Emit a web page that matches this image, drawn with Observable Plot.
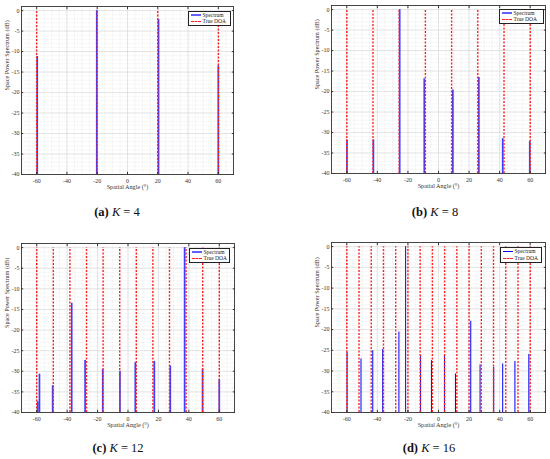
<!DOCTYPE html>
<html>
<head>
<meta charset="utf-8">
<script src="https://cdn.jsdelivr.net/npm/d3@7"></script>
<script src="https://cdn.jsdelivr.net/npm/@observablehq/plot@0.6"></script>
<style>
  html, body { margin: 0; padding: 0; background: #fff; }
  #root { position: relative; width: 550px; height: 459px; overflow: hidden; font-family: "Liberation Serif", "Times New Roman", "DejaVu Serif", serif; }
  .panel { position: absolute; }
  .caption { position: absolute; font-size: 12.5px; color: #111; white-space: nowrap; transform: translate(-50%, -50%); }
  .caption b { font-weight: bold; }
  .legend { position: absolute; background: #fff; border: 0.8px solid #222; box-sizing: border-box; display: flex; flex-direction: column; justify-content: space-evenly; padding: 0 1.5px; font-size: 5.5px; color: #222; white-space: nowrap; overflow: hidden; }
  .legend .row { display: flex; align-items: center; gap: 2px; line-height: 1; white-space: nowrap; }
  .legend .sw { display: inline-block; width: 10px; height: 0; flex: none; }
</style>
</head>
<body>
<div id="root"></div>
<script>
// ---- data ----
const xTicks = [-60, -40, -20, 0, 20, 40, 60];
const yTicks = [-40, -35, -30, -25, -20, -15, -10, -5, 0];
const xMinor = d3.range(-70, 71, 5);
const yMinor = d3.range(-40, 1, 1);
const floorDb = -40;
const doaTop = 0;

const doaA = [-60, -20, 20, 60];
const specAngleA = [-59.6, -20.3, 20.5, 60];
const specPeakA = [-11.2, 0, -2.2, -13.5];

const doaB = [-60, -42.86, -25.71, -8.57, 8.57, 25.71, 42.86, 60];
const specAngleB = [-59.9, -42.6, -25.4, -9.3, 9.4, 26.4, 42.0, 59.7];
const specPeakB = [-31.8, -31.8, 0, -16.9, -19.6, -16.6, -31.5, -32.2];

const doaC = [-60, -49.09, -38.18, -27.27, -16.36, -5.45, 5.45, 16.36, 27.27, 38.18, 49.09, 60];
const specAngleC = [-59.3, -58.2, -49.5, -37.0, -28.2, -16.6, -5.3, 4.8, 17.3, 27.8, 37.2, 49.0, 60.0];
const specPeakC = [-37.4, -30.7, -33.5, -13.5, -27.4, -29.6, -30.0, -27.9, -27.6, -28.7, 0, -29.5, -32.1];

const doaD = [-60, -52, -44, -36, -28, -20, -12, -4, 4, 12, 20, 28, 36, 44, 52, 60];
const specAngleD = [-59.8, -50.7, -43.0, -36.5, -25.9, -21.5, -11.7, -4.6, 3.9, 11.1, 21.1, 27.2, 36.1, 42.0, 50.0, 59.1];
const specPeakD = [-25.5, -27.1, -25.1, -24.8, -20.6, 0, -26.3, -27.5, -26.4, -30.7, -18.0, -28.5, -29.1, -28.3, -27.7, -26.0];

const captions = [["(a)", "4"], ["(b)", "8"], ["(c)", "12"], ["(d)", "16"]];
const xLabel = "Spatial Angle (°)";
const yLabel = "Space Power Spectrum (dB)";
const legendLabels = ["Spectrum", "True DOA"];

// ---- layout ----
const panels = [
  {doa: doaA, ang: specAngleA, pk: specPeakA, left: 0, top: 0, h: 200, ml: 21, mr: 42, mt: 6, mb: 26,
   color: "#3d3dff", sw: 1.7, cap: [117, 212], leg: [188, 11, 43, 14.5]},
  {doa: doaB, ang: specAngleB, pk: specPeakB, left: 275, top: 0, h: 200, ml: 56, mr: 5, mt: 5, mb: 27,
   color: "#3d3dff", sw: 1.7, cap: [435, 212], leg: [499, 9, 45, 15]},
  {doa: doaC, ang: specAngleC, pk: specPeakC, left: 0, top: 237, h: 201, ml: 21, mr: 41, mt: 6, mb: 26,
   color: "#3d3dff", sw: 1.7, cap: [118, 448], leg: [189, 248, 41, 15]},
  {doa: doaD, ang: specAngleD, pk: specPeakD, left: 275, top: 237, h: 201, ml: 56, mr: 5, mt: 5, mb: 26,
   color: "#0000ff", sw: 1.0, cap: [429, 448], leg: [500, 247, 42, 16]}
];

const root = document.getElementById("root");
const fmt = d => String(d);
const blank = () => "";
const serif = "Liberation Serif, Times New Roman, DejaVu Serif, serif";

panels.forEach((p, i) => {
  const spec = p.ang.map((a, j) => ({angle: a, peak: p.pk[j]}));
  const chart = Plot.plot({
    width: 275, height: p.h,
    marginLeft: p.ml, marginRight: p.mr, marginTop: p.mt, marginBottom: p.mb,
    x: {domain: [-70, 70]},
    y: {domain: [-40, 1]},
    style: {fontFamily: serif, background: "transparent", color: "#333"},
    marks: [
      Plot.gridX(xMinor, {stroke: "#cfcfcf", strokeOpacity: 1, strokeWidth: 0.45, strokeDasharray: "0.6,1"}),
      Plot.gridY(yMinor, {stroke: "#cfcfcf", strokeOpacity: 1, strokeWidth: 0.45, strokeDasharray: "0.6,1"}),
      Plot.gridX(xTicks, {stroke: "#d9d9d9", strokeOpacity: 1, strokeWidth: 0.6}),
      Plot.gridY(yTicks, {stroke: "#d9d9d9", strokeOpacity: 1, strokeWidth: 0.6}),
      Plot.ruleX(spec, {x: "angle", y1: () => floorDb, y2: "peak", stroke: p.color, strokeWidth: p.sw}),
      Plot.ruleX(p.doa, {x: d => d, y1: () => floorDb, y2: () => doaTop, stroke: "#ff2020", strokeWidth: 1.4, strokeDasharray: "2,1.5"}),
      Plot.frame({stroke: "#333", strokeWidth: 0.9}),
      Plot.axisX(xTicks, {anchor: "bottom", tickSize: -2.2, tickFormat: blank, label: null, stroke: "#333"}),
      Plot.axisX(xTicks, {anchor: "top", tickSize: -2.2, tickFormat: blank, label: null, stroke: "#333"}),
      Plot.axisY(yTicks, {anchor: "left", tickSize: -2.2, tickFormat: blank, label: null, stroke: "#333"}),
      Plot.axisY(yTicks, {anchor: "right", tickSize: -2.2, tickFormat: blank, label: null, stroke: "#333"}),
      Plot.axisX(xTicks, {anchor: "bottom", tickSize: 0, tickPadding: 4, tickFormat: fmt, fontSize: 6, label: null, fill: "#333"}),
      Plot.axisY(yTicks, {anchor: "left", tickSize: 0, tickPadding: 2, tickFormat: fmt, fontSize: 6, label: null, fill: "#333"}),
      Plot.text([xLabel], {text: d => d, frameAnchor: "bottom", dy: 14, fontSize: 6.2, fill: "#333"}),
      Plot.text([yLabel], {text: d => d, frameAnchor: "left", dx: -14, rotate: -90, fontSize: 6.2, fill: "#333"})
    ]
  });
  const wrap = document.createElement("div");
  wrap.className = "panel";
  wrap.style.left = p.left + "px";
  wrap.style.top = p.top + "px";
  wrap.appendChild(chart);
  root.appendChild(wrap);

  // legend
  const lg = document.createElement("div");
  lg.className = "legend";
  lg.style.left = p.leg[0] + "px";
  lg.style.top = p.leg[1] + "px";
  lg.style.width = p.leg[2] + "px";
  lg.style.height = p.leg[3] + "px";
  const r1 = document.createElement("div"); r1.className = "row";
  const s1 = document.createElement("span"); s1.className = "sw";
  s1.style.borderTop = (p.sw > 1.2 ? 2 : 1) + "px solid " + (p.sw > 1.2 ? "#6060ff" : "#0000ff");
  r1.appendChild(s1); r1.appendChild(document.createTextNode(legendLabels[0]));
  const r2 = document.createElement("div"); r2.className = "row";
  const s2 = document.createElement("span"); s2.className = "sw";
  s2.style.borderTop = "1px dashed #ff2020";
  r2.appendChild(s2); r2.appendChild(document.createTextNode(legendLabels[1]));
  lg.appendChild(r1); lg.appendChild(r2);
  root.appendChild(lg);

  // caption
  const cap = document.createElement("div");
  cap.className = "caption";
  cap.style.left = p.cap[0] + "px";
  cap.style.top = p.cap[1] + "px";
  cap.innerHTML = "<b>" + captions[i][0] + "</b> <i>K</i> = " + captions[i][1];
  root.appendChild(cap);
});
</script>
</body>
</html>
